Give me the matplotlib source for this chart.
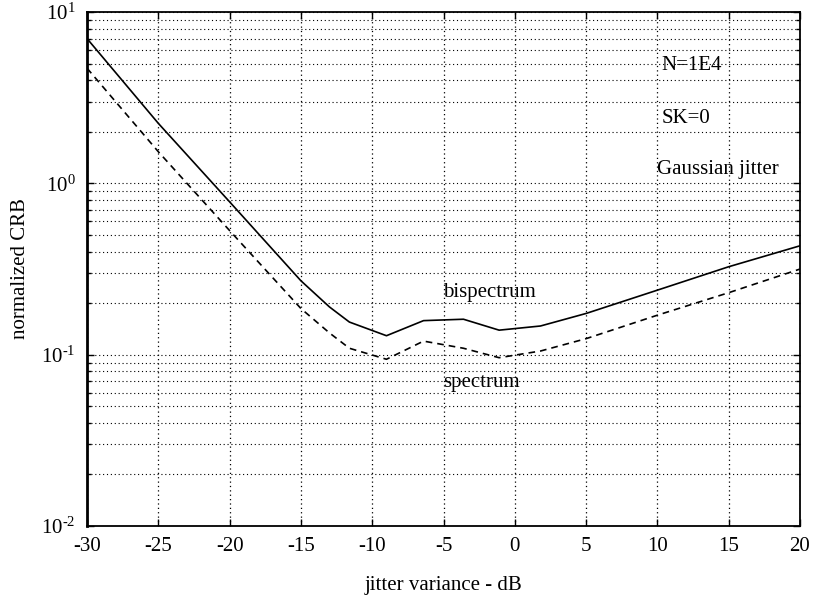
import matplotlib
matplotlib.use("Agg")
import matplotlib.pyplot as plt
from matplotlib.ticker import LogLocator, FuncFormatter, NullFormatter
import math

plt.rcParams['font.family'] = ['Liberation Serif', 'DejaVu Serif']
plt.rcParams['mathtext.fontset'] = 'custom'
plt.rcParams['mathtext.rm'] = 'Liberation Serif'
plt.rcParams['mathtext.it'] = 'Liberation Serif:italic'

# data
jitter_db = [-30, -25, -20, -15, -13, -11.6, -9, -6.4, -3.6, -1.1, 1.8, 5, 10, 15, 20]
bispectrum = [7.0, 2.24, 0.78, 0.27, 0.19, 0.155, 0.129, 0.158, 0.161, 0.139, 0.147, 0.174, 0.238, 0.326, 0.432]
spectrum = [4.7, 1.53, 0.53, 0.186, 0.134, 0.109, 0.094, 0.120, 0.109, 0.096, 0.105, 0.124, 0.170, 0.230, 0.316]
x_ticks = [-30, -25, -20, -15, -10, -5, 0, 5, 10, 15, 20]

fig = plt.figure(figsize=(8.14, 6.03), dpi=100)
ax = fig.add_axes([87/814, 1-526/603, (800-87)/814, (526-12)/603])

ax.plot(jitter_db, bispectrum, color='black', lw=1.2, ls='-')
ax.plot(jitter_db, spectrum, color='black', lw=1.2, ls=(0, (4, 3)))

ax.set_yscale('log')
ax.set_xlim(-30, 20)
ax.set_ylim(1e-2, 1e1)
ax.set_xticks(x_ticks)
ax.set_xticklabels([str(v) for v in x_ticks])
ax.yaxis.set_major_locator(LogLocator(base=10, numticks=10))
ax.yaxis.set_minor_locator(LogLocator(base=10, subs=range(2, 10), numticks=10))


def yfmt(v, pos):
    e = int(round(math.log10(v)))
    if e < 0:
        return r'$10^{\text{-}%d}$' % (-e)
    return r'$10^{%d}$' % e


ax.yaxis.set_major_formatter(FuncFormatter(yfmt))
ax.yaxis.set_minor_formatter(NullFormatter())

grid_ls = (0, (1, 2.5))
ax.grid(True, which='major', axis='x', color='black', ls=grid_ls, lw=0.9)
ax.grid(True, which='both', axis='y', color='black', ls=grid_ls, lw=0.8)

ax.tick_params(which='both', direction='in', top=True, right=True, labelsize=15, pad=8)
ax.tick_params(which='major', length=5, width=1.0)
ax.tick_params(which='minor', length=3, width=1.0)
for s in ax.spines.values():
    s.set_linewidth(1.3)
ax.spines['left'].set_linewidth(2.0)

ax.set_xlabel('jitter variance - dB', fontsize=15, labelpad=14)
ax.set_ylabel('normalized CRB', fontsize=15, labelpad=8)

ax.text(10.3, 4.9, 'N=1E4', fontsize=15, va='center', ha='left')
ax.text(10.3, 2.4, 'SK=0', fontsize=15, va='center', ha='left')
ax.text(10.0, 1.20, 'Gaussian jitter', fontsize=15, va='center', ha='left')
ax.text(-5, 0.232, 'bispectrum', fontsize=15, va='center', ha='left')
ax.text(-5, 0.069, 'spectrum', fontsize=15, va='center', ha='left')

fig.savefig('out.png', dpi=100)
